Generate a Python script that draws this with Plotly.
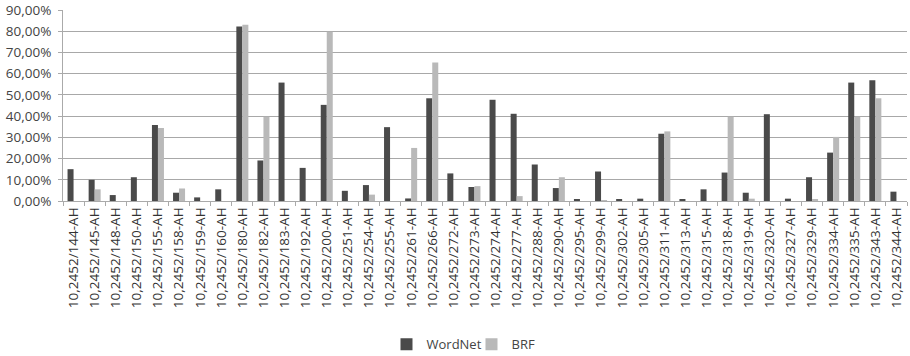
import plotly.graph_objects as go

categories = ["144", "145", "148", "150", "155", "158", "159", "160", "180", "182",
              "183", "192", "200", "251", "254", "255", "261", "266", "272", "273",
              "274", "277", "288", "290", "295", "299", "302", "305", "311", "313",
              "315", "318", "319", "320", "327", "329", "334", "335", "343", "344"]
labels = ["10,2452/%s-AH" % c for c in categories]

wordnet = [15.0, 10.0, 2.8, 11.2, 35.8, 3.9, 1.7, 5.5, 82.2, 19.1,
           55.8, 15.6, 45.3, 4.8, 7.5, 34.8, 1.2, 48.4, 13.0, 6.6,
           47.7, 41.1, 17.2, 6.1, 0.8, 13.9, 0.8, 1.1, 31.7, 0.6,
           5.5, 13.4, 3.9, 40.9, 1.1, 11.2, 22.8, 55.8, 56.9, 4.4]
brf = [0.0, 5.5, 0.0, 0.0, 34.4, 5.9, 0.0, 0.0, 83.1, 39.7,
       0.0, 0.0, 79.7, 0.0, 3.0, 0.0, 25.0, 65.3, 0.0, 7.0,
       0.0, 2.3, 0.0, 11.2, 0.0, 0.3, 0.0, 0.0, 32.8, 0.0,
       0.0, 39.7, 1.1, 0.0, 0.0, 0.9, 30.2, 39.7, 48.4, 0.0]

y_ticks = [0, 10, 20, 30, 40, 50, 60, 70, 80, 90]

fig = go.Figure()
fig.add_trace(go.Bar(x=labels, y=[v / 100 for v in wordnet], name="WordNet",
                     marker=dict(color="#4a4a4a", line=dict(width=0))))
fig.add_trace(go.Bar(x=labels, y=[v / 100 for v in brf], name="BRF",
                     marker=dict(color="#b9b9b9", line=dict(width=0))))

fig.update_layout(
    template="none",
    width=910, height=356,
    margin=dict(l=63, r=3, t=10, b=155, autoexpand=False),
    paper_bgcolor="white", plot_bgcolor="white",
    barmode="group", bargap=0.43, bargroupgap=0,
    separators=", ",
    font=dict(family="Open Sans, DejaVu Sans, sans-serif", size=13, color="#444"),
    legend=dict(orientation="h", x=0.484, xanchor="center", y=-0.75, yanchor="middle",
                font=dict(size=13, color="#444"), itemwidth=30, traceorder="normal",
                entrywidth=40, bgcolor="rgba(0,0,0,0)"),
    showlegend=True,
)
fig.update_xaxes(
    automargin=False,
    tickangle=-90, showline=True, linecolor="#aaaaaa", linewidth=1,
    ticks="outside", tickson="boundaries", ticklen=4, tickcolor="#aaaaaa",
    tickfont=dict(size=13.5, color="#333"), showgrid=False, zeroline=False,
    ticklabeloverflow="allow",
)
fig.update_yaxes(
    automargin=False,
    range=[0, 0.9], tickvals=[t / 100 for t in y_ticks], tickformat=".2%",
    showgrid=True, gridcolor="#a8a8a8", gridwidth=1,
    showline=True, linecolor="#aaaaaa", linewidth=1,
    ticks="outside", ticklen=4, tickcolor="#aaaaaa",
    tickfont=dict(size=13.5, color="#444"), zeroline=False,
    ticklabeloverflow="allow", ticklabelstandoff=4,
)

fig.write_html("out.html",
               config={"displayModeBar": False},
               post_script="document.body.style.margin='0px';document.body.style.overflow='hidden';")
